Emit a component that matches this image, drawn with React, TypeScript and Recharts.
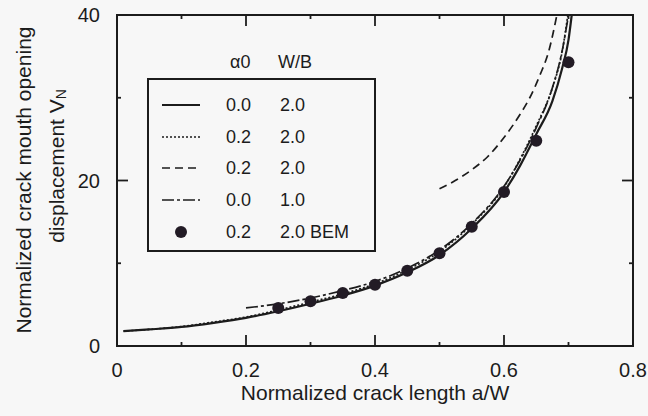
import { ComposedChart, Line, Scatter, XAxis, YAxis } from 'recharts';

// a/W vs normalized CMOD
const solidA = [0.01, 0.05, 0.1, 0.15, 0.2, 0.25, 0.3, 0.35, 0.4, 0.45, 0.5, 0.55, 0.6, 0.625, 0.65, 0.675, 0.69, 0.7, 0.705];
const solidV = [1.8, 2.0, 2.3, 2.8, 3.4, 4.2, 5.1, 6.1, 7.3, 8.9, 11.0, 14.2, 18.6, 21.8, 25.6, 29.6, 33.5, 37.0, 40.0];

const dottedA = [0.01, 0.05, 0.1, 0.15, 0.2, 0.25, 0.3, 0.35, 0.4, 0.45, 0.5, 0.55, 0.6, 0.625, 0.65, 0.675, 0.69, 0.699];
const dottedV = [1.8, 2.0, 2.35, 2.9, 3.5, 4.35, 5.3, 6.3, 7.5, 9.2, 11.4, 14.7, 19.2, 22.6, 26.6, 31.2, 35.5, 40.0];

const dashedA = [0.5, 0.52, 0.55, 0.575, 0.6, 0.625, 0.64, 0.655, 0.67, 0.682];
const dashedV = [19.0, 19.8, 21.3, 22.9, 25.2, 28.0, 30.0, 32.6, 35.8, 40.0];

const dashDotA = [0.2, 0.25, 0.3, 0.35, 0.4, 0.45, 0.5, 0.55, 0.6, 0.65, 0.675, 0.69, 0.7];
const dashDotV = [4.6, 5.1, 5.8, 6.7, 7.8, 9.4, 11.6, 14.8, 19.3, 26.4, 31.2, 35.6, 40.0];

const bemA = [0.25, 0.3, 0.35, 0.4, 0.45, 0.5, 0.55, 0.6, 0.65, 0.7];
const bemV = [4.6, 5.4, 6.4, 7.4, 9.1, 11.2, 14.4, 18.6, 24.8, 34.3];

const xTicks = [0, 0.1, 0.2, 0.3, 0.4, 0.5, 0.6, 0.7, 0.8];
const yTicks = [0, 10, 20, 30, 40];

const legendAlpha = ['0.0', '0.2', '0.2', '0.0', '0.2'];
const legendWB = ['2.0', '2.0', '2.0', '1.0', '2.0 BEM'];

const zip = (a: number[], v: number[]) => a.map((x, i) => ({ a: x, v: v[i] }));

const INK = '#1c1c1c';
const FONT = '"Liberation Sans", Arial, sans-serif';
const dashes = ['', '2 2', '8 5', '12 3 3 3', ''];

// plot box, matches the chart margins/axis sizes below
const PLOT = { left: 117, top: 15, right: 633, bottom: 346 };

const isMajorX = (v: number) => Math.round(v * 10) % 2 === 0;
const isMajorY = (v: number) => v % 20 === 0;

// one tick renderer per side; ticks point into the plot
const makeTick = (side: 'b' | 't' | 'l' | 'r') => ({ x, y, payload }: any) => {
  const v = payload.value;
  const major = side === 'b' || side === 't' ? isMajorX(v) : isMajorY(v);
  const len = major ? 11 : 4;
  let x2 = x, y2 = y;
  if (side === 'b') y2 = y - len;
  if (side === 't') y2 = y + len;
  if (side === 'l') x2 = x + len;
  if (side === 'r') x2 = x - len;
  return (
    <g>
      <path d={`M${x},${y}L${x2},${y2}`} stroke={INK} strokeWidth={1.8} fill="none" />
      {major && side === 'b' && (
        <text x={x} y={y + 24} textAnchor="middle" dominantBaseline="central" fontSize={20} fill={INK} fontFamily={FONT}>
          {v === 0 ? '0' : v.toFixed(1)}
        </text>
      )}
      {major && side === 'l' && (
        <text x={x - 17} y={y} textAnchor="end" dominantBaseline="central" fontSize={20} fill={INK} fontFamily={FONT}>
          {v}
        </text>
      )}
    </g>
  );
};
const BottomTick = makeTick('b');
const TopTick = makeTick('t');
const LeftTick = makeTick('l');
const RightTick = makeTick('r');

const Dot = (p: any) => <circle cx={p.cx} cy={p.cy} r={6} fill="#221b25" />;

export default function App() {
  const rowY = [105, 137, 168, 200, 232];
  return (
    <div style={{ position: 'absolute', left: 0, top: 0, width: 648, height: 416, background: '#f7f7f7', fontFamily: FONT }}>
      <svg width={648} height={416} style={{ position: 'absolute', left: 0, top: 0 }}>
        <rect x={PLOT.left} y={PLOT.top} width={PLOT.right - PLOT.left} height={PLOT.bottom - PLOT.top}
          fill="none" stroke={INK} strokeWidth={2} />
        <g fill={INK} fontFamily={FONT}>
          <text x={375} y={392} textAnchor="middle" dominantBaseline="central" fontSize={21}>Normalized crack length a/W</text>
          <text transform="translate(23,180) rotate(-90)" textAnchor="middle" dominantBaseline="central" fontSize={21}>
            Normalized crack mouth opening
          </text>
          <text transform="translate(56,166) rotate(-90)" textAnchor="middle" dominantBaseline="central" fontSize={21}>
            displacement V<tspan fontSize={14} dy={5}>N</tspan>
          </text>

          <text x={230} y={62} dominantBaseline="central" fontSize={18}>α0</text>
          <text x={278} y={62} dominantBaseline="central" fontSize={18}>W/B</text>
          <rect x={148} y={79} width={227} height={172} fill="none" stroke={INK} strokeWidth={2} />
          {rowY.map((ry, i) => (
            <g key={i}>
              {i < 4 ? (
                <line x1={162} x2={200} y1={ry} y2={ry} stroke={INK} strokeWidth={i === 0 ? 2 : 1.6} strokeDasharray={dashes[i]} />
              ) : (
                <circle cx={181} cy={ry} r={6} fill="#221b25" />
              )}
              <text x={226} y={ry} dominantBaseline="central" fontSize={18}>{legendAlpha[i]}</text>
              <text x={280} y={ry} dominantBaseline="central" fontSize={18}>{legendWB[i]}</text>
            </g>
          ))}
        </g>
      </svg>

      <div style={{ position: 'absolute', left: 0, top: 0 }}>
        <ComposedChart width={648} height={416} margin={{ top: 13, right: 13, bottom: 0, left: 0 }}>
          <XAxis xAxisId="b" type="number" dataKey="a" domain={[0, 0.8]} ticks={xTicks}
            height={70} tickSize={0} tickMargin={0} tickLine={false} axisLine={{ stroke: INK, strokeWidth: 2 }} tick={<BottomTick />} interval={0} />
          <XAxis xAxisId="t" orientation="top" type="number" dataKey="a" domain={[0, 0.8]} ticks={xTicks}
            height={2} tickSize={0} tickMargin={0} tickLine={false} axisLine={{ stroke: INK, strokeWidth: 2 }} tick={<TopTick />} interval={0} />
          <YAxis yAxisId="l" type="number" dataKey="v" domain={[0, 40]} ticks={yTicks}
            width={117} tickSize={0} tickMargin={0} tickLine={false} axisLine={{ stroke: INK, strokeWidth: 2 }} tick={<LeftTick />} interval={0} />
          <YAxis yAxisId="r" orientation="right" type="number" dataKey="v" domain={[0, 40]} ticks={yTicks}
            width={2} tickSize={0} tickMargin={0} tickLine={false} axisLine={{ stroke: INK, strokeWidth: 2 }} tick={<RightTick />} interval={0} />

          <Line xAxisId="t" yAxisId="r" data={zip(dashedA, dashedV)} dataKey="v" type="monotone" stroke={INK}
            strokeWidth={1.7} strokeDasharray={dashes[2]} dot={false} isAnimationActive={false} />
          <Line xAxisId="t" yAxisId="r" data={zip(dashDotA, dashDotV)} dataKey="v" type="monotone" stroke={INK}
            strokeWidth={1.7} strokeDasharray={dashes[3]} dot={false} isAnimationActive={false} />
          <Line xAxisId="b" yAxisId="l" data={zip(dottedA, dottedV)} dataKey="v" type="monotone" stroke={INK}
            strokeWidth={1.7} strokeDasharray={dashes[1]} dot={false} isAnimationActive={false} />
          <Line xAxisId="b" yAxisId="l" data={zip(solidA, solidV)} dataKey="v" type="monotone" stroke={INK}
            strokeWidth={2.2} dot={false} isAnimationActive={false} />
          <Scatter xAxisId="b" yAxisId="l" data={zip(bemA, bemV)} dataKey="v" shape={<Dot />} isAnimationActive={false} />
        </ComposedChart>
      </div>
    </div>
  );
}
